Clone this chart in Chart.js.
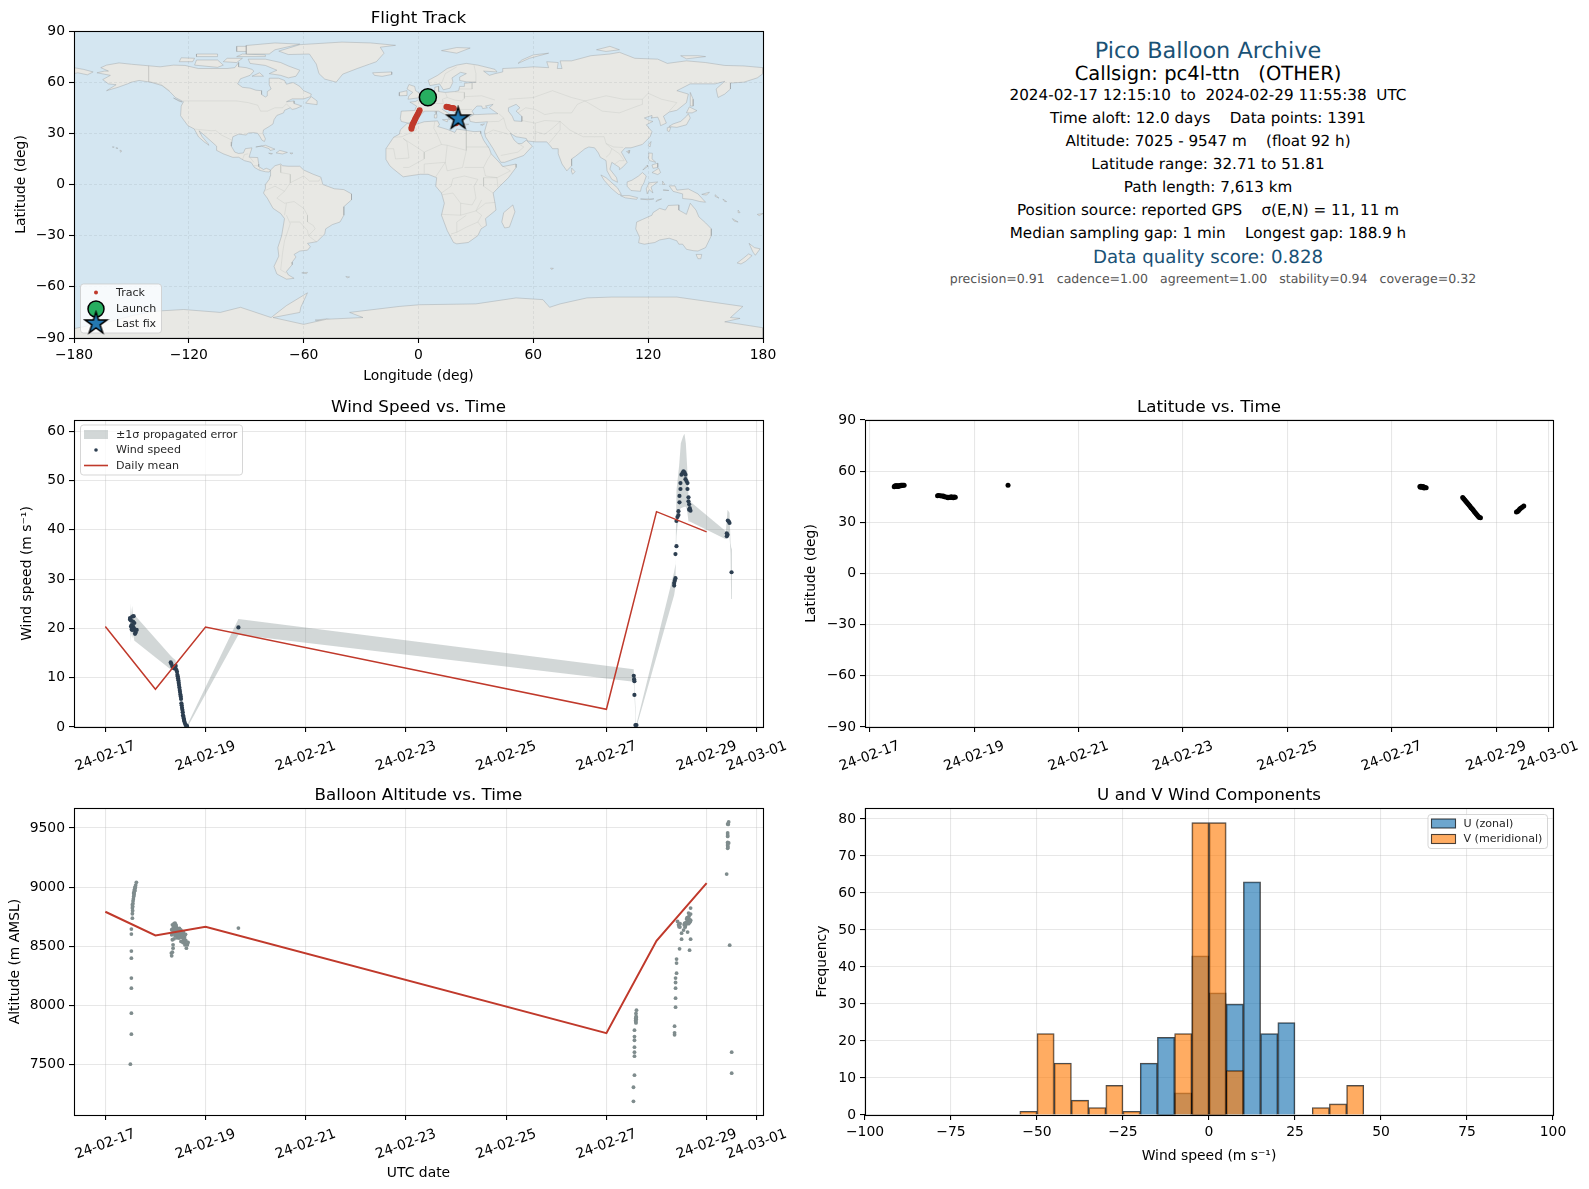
<!DOCTYPE html>
<html>
<head>
<meta charset="utf-8">
<title>Pico Balloon Archive</title>
<script src="https://cdn.jsdelivr.net/npm/chart.js@4/dist/chart.umd.min.js"></script>
<style>
  html, body { margin: 0; padding: 0; background: #fff; width: 1589px; height: 1189px; overflow: hidden; }
  canvas { position: absolute; }
  .info { position: absolute; left: 1208px; transform: translate(-50%, -50%); white-space: pre; font-family: "DejaVu Sans", sans-serif; color: #000; text-rendering: geometricPrecision; }
</style>
</head>
<body>
<script>
// ---- time axis, days after 2024-02-17 00:00 UTC
const dateTickDays = [0, 2, 4, 6, 8, 10, 12, 13];
const dateTickLabels = ['24-02-17', '24-02-19', '24-02-21', '24-02-23', '24-02-25', '24-02-27', '24-02-29', '24-03-01'];

// ---- wind speed
const windDays = [0.493, 0.493, 0.539, 0.566, 0.513, 0.553, 0.526, 0.553, 0.526, 0.573, 0.593, 0.626, 0.606, 0.593, 0.539, 0.513, 0.579,
  1.305, 1.318, 1.338, 1.358, 1.372, 1.391, 1.405, 1.418, 1.431, 1.438, 1.445, 1.451, 1.458, 1.465, 1.471, 1.478, 1.485, 1.491, 1.498, 1.505, 1.511, 1.518, 1.525, 1.531, 1.538, 1.545, 1.551, 1.558, 1.565, 1.571, 1.578, 1.591, 1.605, 1.618, 1.631,
  2.656,
  10.546, 10.553, 10.559, 10.559, 10.579, 10.599,
  11.352, 11.352, 11.365, 11.378, 11.378, 11.398, 11.398, 11.418, 11.438, 11.438, 11.458, 11.458, 11.478, 11.478, 11.498, 11.518, 11.538, 11.558, 11.578, 11.578, 11.598, 11.618, 11.618, 11.638, 11.638, 11.651, 11.664, 11.678, 11.651,
  12.403, 12.417, 12.403, 12.423, 12.443, 12.457, 12.497];
const windSpeeds = [22.1, 21.8, 22.4, 22.5, 21.6, 21.4, 20.7, 20.4, 19.8, 20.0, 19.6, 19.7, 19.2, 18.9, 19.7, 20.4, 21.1,
  13.1, 12.8, 12.3, 12.0, 11.9, 12.1, 12.4, 11.6, 11.2, 10.6, 10.3, 9.9, 9.5, 9.0, 8.5, 8.0, 7.5, 7.1, 6.6, 6.2, 5.7, 4.8, 4.4, 3.9, 3.5, 3.0, 2.4, 2.1, 1.7, 1.4, 1.1, 0.7, 0.4, 0.3, 0.2,
  20.2,
  10.4, 9.7, 9.3, 6.5, 0.4, 0.4,
  28.7, 29.2, 29.7, 30.2, 35.1, 36.7, 41.8, 42.6, 43.0, 43.8, 45.6, 46.9, 48.3, 49.5, 51.2, 51.5, 51.9, 51.7, 51.2, 50.3, 49.9, 49.5, 48.3, 46.6, 45.8, 45.2, 44.4, 43.9, 44.1,
  38.7, 39.0, 39.3, 41.9, 41.7, 41.4, 31.4];
const windMeanDays = [0, 1, 2, 10, 11, 12];
const windMeanSpeeds = [20.4, 7.65, 20.3, 3.6, 43.7, 39.6];
const bandDays = [0.493, 0.505, 0.515, 0.535, 0.55, 0.58, 0.62, 1.30, 1.35, 1.40, 1.45, 1.5, 1.55, 1.60, 1.64, 2.656,
  10.545, 10.55, 10.58, 10.59, 10.6, 11.352, 11.378, 11.385, 11.398, 11.451, 11.485, 11.531, 11.558, 11.585, 11.611, 11.638, 11.664, 12.383, 12.417, 12.457, 12.477, 12.49, 12.505];
const bandUpper = [25.1, 23.0, 22.5, 24.6, 23.0, 22.4, 22.3, 14.5, 14.0, 13.6, 10.8, 6.9, 2.9, 0.9, 0.5, 21.9,
  11.7, 10.8, 4.0, 0.8, 0.6, 31.5, 33.0, 38.0, 48.0, 53.0, 57.6, 59.0, 59.5, 57.6, 52.9, 46.8, 45.8, 39.7, 44.1, 43.5, 37.3, 36.5, 36.0];
const bandLower = [17.0, 19.5, 19.5, 18.0, 19.0, 17.5, 17.2, 11.7, 11.9, 10.9, 9.2, 5.5, 1.9, 0.3, 0.0, 18.7,
  9.2, 8.5, 2.0, 0.0, 0.0, 26.8, 28.5, 34.5, 38.7, 44.0, 44.4, 44.6, 44.7, 44.7, 44.0, 41.7, 41.7, 38.1, 40.0, 38.7, 35.3, 26.1, 26.0];

// ---- latitude
const latDays = [0.47, 0.49, 0.51, 0.53, 0.55, 0.58, 0.6, 0.62, 0.64, 0.66, 0.48, 0.52, 0.56, 0.5, 0.54, 0.6,
  1.3, 1.32, 1.35, 1.38, 1.41, 1.43, 1.46, 1.49, 1.52, 1.55, 1.58, 1.6, 1.62, 1.64, 1.5, 1.56, 1.6,
  2.65,
  10.54, 10.57, 10.6, 10.63, 10.66, 10.56, 10.58, 10.6, 10.62, 10.55,
  11.36, 11.38, 11.4, 11.42, 11.44, 11.46, 11.48, 11.5, 11.52, 11.54, 11.56, 11.58, 11.6, 11.62, 11.64, 11.66, 11.68, 11.7,
  12.39, 12.41, 12.43, 12.45, 12.47, 12.5, 12.53];
const latValues = [50.9, 51.1, 51.1, 51.3, 51.4, 51.6, 51.7, 51.8, 51.7, 51.7, 51.3, 51.4, 51.2, 51.5, 51.0, 51.4,
  45.6, 45.7, 45.6, 45.5, 45.4, 45.0, 44.8, 44.7, 44.7, 44.6, 44.7, 44.7, 44.8, 44.7, 44.4, 45.0, 44.4,
  51.7,
  51.0, 50.9, 50.7, 50.5, 50.3, 51.1, 50.5, 51.0, 50.2, 50.6,
  44.5, 43.9, 43.1, 42.4, 41.6, 40.9, 40.1, 39.4, 38.6, 37.9, 37.2, 36.4, 35.6, 34.9, 34.1, 33.4, 32.9, 32.7,
  36.0, 36.4, 37.0, 37.6, 38.2, 38.9, 39.6];
const degreeTicks = [-90, -60, -30, 0, 30, 60, 90];
const lonTicks = [-180, -120, -60, 0, 60, 120, 180];

// ---- altitude
const altDays = [0.5, 0.52, 0.52, 0.52, 0.52, 0.52, 0.52, 0.52, 0.52, 0.54, 0.54, 0.54, 0.54, 0.553, 0.566, 0.566, 0.58, 0.593, 0.606, 0.62, 0.573, 0.547, 0.593, 0.58, 0.56, 0.575, 0.59, 0.6, 0.55, 0.545,
  1.325, 1.318, 1.338, 1.352, 1.352, 1.372, 1.338, 1.325, 1.325, 1.391, 1.372, 1.405, 1.418, 1.438, 1.471, 1.505, 1.538, 1.551, 1.571, 1.591, 1.618, 1.638, 1.651, 1.605, 1.538, 1.471, 1.405, 1.372, 1.438, 1.505, 1.451, 1.485, 1.525, 1.565, 1.585,
  1.33, 1.36, 1.38, 1.4, 1.42, 1.44, 1.46, 1.48, 1.5, 1.52, 1.54, 1.56, 1.58, 1.6, 1.35, 1.39, 1.43, 1.47, 1.51, 1.55, 1.59, 1.34, 1.37, 1.41,
  2.656,
  10.6, 10.593, 10.593, 10.587, 10.587, 10.56, 10.56, 10.56, 10.56, 10.56, 10.56, 10.56, 10.54, 10.54, 10.59, 10.585, 10.595, 10.59,
  11.36, 11.36, 11.36, 11.38, 11.38, 11.38, 11.38, 11.38, 11.4, 11.4, 11.4, 11.46, 11.66, 11.68, 11.5, 11.5, 11.62, 11.54, 11.467, 11.44, 11.42, 11.553, 11.587, 11.62, 11.653, 11.64, 11.68, 11.64, 11.68, 11.6, 11.567, 11.673,
  11.56, 11.58, 11.6, 11.62, 11.64, 11.66, 11.68, 11.61, 11.57, 11.65, 11.47, 11.45,
  12.44, 12.42, 12.42, 12.42, 12.42, 12.44, 12.42, 12.42, 12.4, 12.46, 12.5, 12.5, 12.42, 12.43, 12.42, 12.425];
const altMeters = [7500, 7754, 7932, 8144, 8229, 8398, 8458, 8602, 8644, 8737, 8774, 8822, 8850, 8881, 8921, 8949, 8977, 9000, 9017, 9040, 8935, 8835, 8990, 8965, 8900, 8950, 8970, 9000, 8860, 8800,
  8418, 8441, 8449, 8483, 8511, 8562, 8554, 8596, 8638, 8695, 8672, 8681, 8653, 8624, 8633, 8638, 8624, 8582, 8554, 8525, 8483, 8511, 8531, 8548, 8540, 8568, 8610, 8624, 8582, 8596, 8640, 8610, 8575, 8560, 8590,
  8640, 8660, 8640, 8620, 8660, 8600, 8610, 8650, 8580, 8620, 8600, 8620, 8570, 8600, 8610, 8590, 8570, 8580, 8540, 8530, 8510, 8680, 8690, 8675,
  8653,
  7958, 7904, 7880, 7890, 7860, 7788, 7734, 7703, 7644, 7602, 7568, 7407, 7305, 7186, 7930, 7870, 7895, 7850,
  7766, 7749, 7822, 7983, 8059, 8144, 8192, 8229, 8271, 8356, 8390, 8477, 8466, 8559, 8559, 8610, 8619, 8636, 8661, 8681, 8709, 8681, 8695, 8709, 8723, 8737, 8771, 8780, 8822, 8729, 8695, 8709,
  8690, 8675, 8700, 8695, 8690, 8700, 8720, 8740, 8660, 8755, 8690, 8665,
  9551, 9534, 9458, 9429, 9379, 9373, 9350, 9328, 9110, 8508, 7602, 7424, 9440, 9530, 9365, 9340];
const altMeanDays = [0, 1, 2, 10, 11, 12];
const altMeanMeters = [8791, 8590, 8664, 7763, 8545, 9034];
const altTicks = [7500, 8000, 8500, 9000, 9500];
const windTicks = [0, 10, 20, 30, 40, 50, 60];

// ---- U / V histogram, 5 m/s bins
const binCenters = [-52.5, -47.5, -42.5, -37.5, -32.5, -27.5, -22.5, -17.5, -12.5, -7.5, -2.5, 2.5, 7.5, 12.5, 17.5, 22.5, 27.5, 32.5, 37.5, 42.5];
const uCounts = [0, 0, 0, 0, 0, 0, 0, 14, 21, 6, 43, 33, 30, 63, 22, 25, 0, 0, 0, 0];
const vCounts = [1, 22, 14, 4, 2, 8, 1, 0, 0, 22, 79, 79, 12, 0, 0, 0, 0, 2, 3, 8];
const histXTicks = [-100, -75, -50, -25, 0, 25, 50, 75, 100];
const histYTicks = [0, 10, 20, 30, 40, 50, 60, 70, 80];

// ---- flight track on the map
const trackLons = [-3.7, -3.6, -3.3, -3.0, -2.6, -2.2, -1.8, -1.4, -0.9, -0.4, 0.1, 0.6, 14.6, 15.4, 16.2, 17.0, 17.8, 18.4, 19.6, 19.9, 20.2, 20.6];
const trackLats = [32.7, 33.6, 34.6, 35.5, 36.4, 37.3, 38.2, 39.2, 40.2, 41.2, 42.4, 43.6, 45.6, 45.5, 45.2, 44.9, 44.8, 44.7, 35.9, 36.6, 37.6, 38.8];
const launchLon = [4.9], launchLat = [51.2];
const lastFixLon = [20.7], lastFixLat = [38.6];

// ---- coastlines, [lon, lat]
const northAmerica = [[-168,65.5],[-164,66.5],[-162,66.5],[-166,68.5],[-163,70],[-156.5,71.3],[-150,70.5],[-141,69.6],[-135,69],[-128,70],[-122,69.8],[-115,68],[-108,68],[-100,68],[-96,68.5],[-94,71.5],[-94,69],[-90,68.5],[-87,67.5],[-86,66.5],[-88,64],[-93,62],[-94.5,59],[-92,57],[-88,56.5],[-85,55.3],[-82,55],[-82,52.8],[-80,51.3],[-79,52],[-79,54.5],[-77,56],[-78,58.5],[-78,62.3],[-73,62.3],[-70,61],[-69,58.8],[-65.5,59.8],[-62,57.5],[-60,55],[-56,53],[-56.5,51.5],[-60,50.2],[-66,50.2],[-69,48.5],[-65,49],[-65,47.5],[-61,46],[-64,44.5],[-66,44],[-67,45],[-70,43.5],[-70.5,42],[-74,40.5],[-75.5,38],[-76,35.5],[-78,34],[-81,32],[-81.3,30],[-80,26.8],[-80.5,25.2],[-81.8,26],[-82.8,28],[-84,30],[-86,30.4],[-89,30.2],[-90,29],[-94,29.5],[-97,28],[-97.5,25],[-97.8,22.5],[-96,19],[-94,18.2],[-91.5,18.5],[-90.5,21],[-87,21.5],[-88,18],[-88.5,16],[-84,15.8],[-83.5,12],[-83.5,10.5],[-81,8.8],[-79.5,9.5],[-77.3,8.5],[-78,7.3],[-80,7.5],[-83,8.3],[-85.7,10],[-87.5,13],[-91,14],[-94,16],[-97,15.9],[-102,18],[-105.5,20],[-105.5,22.5],[-109,26],[-112.5,29.5],[-114.7,31.5],[-113,28],[-110,24],[-109.5,23],[-112,25],[-115,28],[-117.2,32.6],[-120.5,34.5],[-122.5,37.5],[-124.3,40.3],[-124,46],[-122.8,48.5],[-127,51],[-130,54.5],[-134,58],[-140,60],[-146,61],[-150,60],[-152,59],[-157,57],[-163,55],[-158,58.5],[-162,59],[-165,61.5],[-161,64],[-168,65.5]];
const greenland = [[-73,78.2],[-62,82],[-40,83.5],[-25,83],[-12,81.6],[-20,80.5],[-18,77],[-22,72],[-25.5,70.6],[-32,68],[-39.6,64.7],[-43,60],[-49,61.8],[-52,65],[-53.4,70.6],[-57,76.5],[-68,76.2],[-73,78.2]];
const southAmerica = [[-77.3,8.5],[-75,11],[-72,12],[-71,11],[-68,10.7],[-62,10.7],[-60,8.5],[-55,6],[-51,4.3],[-50,0],[-44,-2.5],[-39,-3],[-35,-5.5],[-35,-9],[-39,-13],[-39,-18],[-41,-22],[-45,-23.5],[-48.5,-26],[-49,-29],[-53,-33.5],[-58,-34.5],[-56.5,-36.5],[-58,-38.5],[-62,-39],[-65,-41],[-64,-42.5],[-66,-45.5],[-66,-47],[-69,-51],[-68,-53],[-65,-55],[-69,-55.5],[-74,-52.5],[-75.5,-48],[-73,-42],[-73.5,-37],[-71.5,-30],[-70,-20],[-72,-17],[-76,-14],[-79,-8],[-81,-5],[-80,-2.5],[-80,0],[-78,3],[-77.5,5],[-77.3,8.5]];
const africa = [[-17,14.7],[-17,21],[-13,27.7],[-10,29.5],[-9.5,32],[-6,35.8],[-2,35],[3,36.8],[10,37.3],[11,35],[10,34],[15,32.3],[19,30.5],[20,32.5],[25,31.7],[29,31],[32.5,31.2],[32.5,30],[34,26],[37,21],[38,18],[43,12],[44,10.5],[51,12],[51,10],[47,4],[42,-1.5],[39,-5],[40,-11],[40.5,-15],[35,-20],[35.5,-24],[32.7,-26],[31,-30],[26,-34],[20,-34.8],[18.3,-34],[15,-27],[12,-18],[13.5,-11],[12,-5],[9,-1],[9.5,4],[5,6],[1,6],[-4,5.2],[-8,4.5],[-13,9],[-15,11],[-17,14.7]];
const eurasia = [[-5.5,36],[-9,37],[-9.5,38.7],[-9,43],[-2,43.4],[-1,46],[-4.5,48.3],[-1.5,48.7],[2,51],[4,52],[7,53.5],[8.5,55],[8.5,57],[10.5,57.5],[10.5,54.5],[14,54],[19,54.5],[21,55],[21.5,57.5],[24,57.5],[24,59.3],[30,60],[25,60.2],[21.5,61],[21.5,63],[25,65],[22,65.8],[17.5,62.5],[18,60],[16.5,56.5],[13,55.5],[11,59],[6,58],[5,61],[10,64],[15,68],[20,70],[25,71],[31,70],[40,67.5],[41,66],[34,66.5],[37,64],[40,65],[44,66],[44,68],[54,68.5],[60,69],[68,68.5],[67,72],[73,71.5],[72.5,68],[75,68],[74,72.5],[80,72.5],[90,75.5],[100,76.5],[105,77.5],[113,74],[125,73.5],[130,71],[140,72.5],[150,71.5],[160,69.8],[170,69.5],[180,68.5],[180,65],[177,62.5],[170,60],[163,59.5],[163,56],[160,53],[156.5,51],[155.5,56],[160,60.5],[155,59],[142,59],[135,55],[141,53],[140,48],[135,43.5],[131,42.5],[128,40],[129.5,36],[126.5,34.5],[126,37],[125,39.5],[121.5,39],[122,40.5],[118,39],[120.5,37.5],[122.5,37],[119,35],[122,31],[121,28],[117,23.5],[111,21.5],[108,21.5],[106,19],[109,13],[107,10.5],[105,8.7],[105,10],[101,13],[100,9],[103.5,4],[104,1.3],[101,3],[98.5,8],[98,14],[95,16],[94,18.5],[92,21.5],[89,22],[87,21],[82,16.5],[80,15],[80,11],[77.5,8],[75,12],[73,18],[73,21],[70,21],[69,22.5],[67,25],[61,25],[57,25.5],[56.3,27],[51,28],[48,30],[50,26],[52,24],[54,24],[56.3,26],[59.5,22.5],[55,17],[45,13],[43,13],[39,21],[35,28],[34.5,31],[35.5,35],[36,36.8],[30,36.3],[27,37],[26.5,39.5],[29,41],[31,41],[36,41.3],[41.5,41.5],[37,45],[39,47],[35,46],[36,45],[33.5,44.5],[33,46],[30.5,46],[28,43],[29,41.2],[26,40.8],[23,40.5],[24,38],[22.5,36.7],[20,39.5],[19.5,42],[15,44.5],[13.5,45.5],[12.5,44],[18,40],[16,38],[15.5,40],[10.5,43],[6,43],[3,43],[0,39.5],[-2,36.8],[-5.5,36]];
const chukotkaWest = [[-180,68.5],[-175,67.5],[-170,66],[-173,64.3],[-178,65.5],[-180,65],[-180,68.5]];
const australia = [[114,-22],[117,-20.5],[122,-18],[122.5,-16.5],[126,-14],[129,-15],[130.5,-12.3],[136,-12],[136,-15],[140,-17.5],[142,-11],[145,-15],[146.5,-19],[150,-22.5],[153,-26],[153,-30],[150,-37],[146,-39],[143.5,-38.8],[140,-38],[138,-35],[136,-35],[135,-33],[131,-31.5],[126,-32.5],[123.5,-34],[118,-35],[115,-34.2],[115.5,-31],[113.5,-26],[114,-22]];
const antarctica = [[-180,-84.5],[-160,-80],[-150,-77],[-138,-74.3],[-122.7,-73.3],[-103.6,-75],[-93,-72],[-77,-78],[-69,-71],[-58,-63.5],[-61.5,-72],[-62,-75],[-76,-78],[-60,-82],[-48,-79],[-29,-78],[-36,-75],[-10,-71.5],[0.5,-70.5],[30,-70],[51,-66.5],[65,-67.5],[68.5,-72],[74,-70],[88,-66.5],[101,-66],[135,-66],[169.5,-71.5],[163,-78],[168,-78.5],[160,-80.5],[180,-84],[180,-90],[-180,-90],[-180,-84.5]];
const madagascar = [[49.3,-12],[50.4,-16],[47.5,-25],[45,-25.5],[43.5,-22],[44.5,-16.5],[49.3,-12]];
const britain = [[-5.5,50],[1.3,51],[1.7,52.7],[-1.5,55],[-2,57.5],[-5,58.6],[-6,56],[-3,54],[-5,52],[-5.5,50]];
const ireland = [[-10,52],[-6,52.2],[-6,55],[-10,54],[-10,52]];
const iceland = [[-24,65.5],[-14,66],[-14,64.5],[-19,63.4],[-23,64],[-24,65.5]];
const arcticIslands = [
  [[-80,73.5],[-72,71.5],[-68,69.5],[-62,67],[-64,63.5],[-68,62.5],[-72,64],[-78,65],[-74,67],[-80,69.8],[-88,71],[-89,73.5],[-80,73.5]],
  [[-117,70],[-105,68.7],[-102,70],[-105,73],[-116,73],[-117,70]],
  [[-125,72],[-118,72],[-117,74],[-124,74.3],[-125,72]],
  [[-90,76.5],[-78,76.5],[-75,79],[-62,82.3],[-75,83],[-90,81.5],[-90,76.5]],
  [[-95,75],[-80,75],[-80,76],[-92,76.5],[-95,75]],
  [[-116,75],[-105,75],[-105,76.5],[-116,76.5],[-116,75]],
  [[-95,78],[-88,78],[-88,81],[-95,81],[-95,78]],
  [[-87,63.5],[-81,63.5],[-83,65.5],[-87,63.5]],
  [[-102,72],[-95,71.5],[-92,74],[-100,74],[-102,72]],
  [[12,78.5],[20,80.3],[27,80],[20,77],[12,78.5]],
  [[52,71],[58,74],[68,77],[60,76],[54,73],[52,71]],
  [[93,79],[100,81],[105,79],[98,78],[93,79]],
  [[137,75.5],[146,75.5],[150,75],[140,73.7],[137,75.5]]];
const caribbeanIslands = [
  [[-59,47.7],[-53,46.8],[-53,49],[-56,51.5],[-59,47.7]],
  [[-128,50.7],[-123.5,48.4],[-125,48.8],[-128,50.7]],
  [[-85,22],[-80,23],[-75,20.7],[-77.5,19.9],[-78,21],[-82,22.5],[-85,22]],
  [[-74.4,18.5],[-72.5,20],[-68.5,18.8],[-71,17.9],[-74.4,18.5]],
  [[-78.3,18.4],[-76.3,18.1],[-77,17.8],[-78.3,18.4]],
  [[-67.2,18.5],[-65.6,18.4],[-66.5,17.9],[-67.2,18.5]],
  [[-160,22],[-159,22],[-159.5,21.8],[-160,22]],
  [[-158,21.6],[-157,21.2],[-158,21.2],[-158,21.6]],
  [[-156,20.2],[-155,19.6],[-155.7,18.9],[-156,20.2]],
  [[-61,-51.8],[-58,-51.5],[-58.5,-52.3],[-61,-51.8]],
  [[-38,-54],[-36,-54.2],[-37,-54.7],[-38,-54]],
  [[69,-49],[70.5,-49.2],[69.5,-49.8],[69,-49]]];
const mediterraneanIslands = [
  [[12.5,38],[15.5,38.2],[15,36.7],[12.5,38]],
  [[8.3,41],[9.7,41],[9.5,39],[8.5,39],[8.3,41]],
  [[8.7,43],[9.5,43],[9.3,41.4],[8.7,42],[8.7,43]],
  [[23.5,35.6],[26.3,35.3],[24.7,34.9],[23.5,35.6]],
  [[32.4,35],[34.5,35.6],[33.7,34.7],[32.4,35]]];
const asiaIslands = [
  [[142,54],[143.5,50],[143.5,46],[142,46],[142,50],[142,54]],
  [[130.8,34],[135,33.5],[140,35],[142,39],[141,41.5],[140,40],[137,37],[133,35.5],[130.8,34]],
  [[140,42],[141.5,45.5],[145.5,43.3],[143,42],[140,42]],
  [[130,33.3],[131.8,33.5],[131,31],[130,31.5],[130,33.3]],
  [[120,23],[121.5,25.2],[121,22],[120,23]],
  [[108.7,19.3],[110.5,20],[110,18.3],[108.7,19.3]],
  [[80,9.7],[81.8,7.5],[80.5,6],[79.8,8],[80,9.7]],
  [[120.3,18.5],[122.2,18.3],[122,15],[124,13],[120.7,14],[120,16],[120.3,18.5]],
  [[122,7],[125.5,9.5],[126.5,7],[125,5.8],[122,7]],
  [[122,11.5],[125,12.5],[125,10],[122.5,9.5],[122,11.5]],
  [[117.2,8.5],[119.5,11.3],[119.7,10.5],[117.2,8.5]],
  [[95.3,5.6],[98,4],[104,-2],[106,-5.8],[104.5,-5.8],[100.5,-2],[97,2.5],[95.3,5.6]],
  [[105.5,-6.5],[110,-6.5],[114.5,-7.7],[114,-8.7],[108,-7.8],[105.5,-6.5]],
  [[109,1.5],[111.5,2.5],[115,5],[117,7],[119,5],[117.8,1],[116.5,-1.5],[116,-4],[111,-3.5],[109,-1],[109,1.5]],
  [[119.5,-5.5],[120.5,-3],[122.5,-5],[121.5,-1.5],[125,1.5],[120.5,1],[119,-2.5],[119.5,-5.5]],
  [[124,-10],[127,-8.5],[125,-9],[124,-10]],
  [[116,-8.5],[122,-8.5],[123,-8.4],[120,-9],[116,-8.5]],
  [[128,-3],[130.8,-3.5],[128,-3.5],[128,-3]],
  [[127.5,2],[128.7,0],[127.7,0],[127.5,2]]];
const pacificIslands = [
  [[131,-0.8],[134,-0.8],[135,-3.3],[141,-2.6],[146,-5.5],[150,-10.4],[147,-10],[143,-8.8],[138,-8.2],[138,-5.5],[133,-4],[131,-0.8]],
  [[148,-5.8],[152,-4.5],[150.5,-6.2],[148,-5.8]],
  [[155,-6],[157,-8],[155,-7],[155,-6]],
  [[159,-8.5],[161,-10],[160,-10],[159,-8.5]],
  [[164,-20],[167,-22],[165,-21.5],[164,-20]],
  [[167,-15],[168,-16.5],[167.2,-16.5],[167,-15]],
  [[177,-17.5],[180,-17],[178,-18.3],[177,-17.5]],
  [[145,-41],[148,-41],[147.5,-43.5],[146,-43.5],[145,-41]],
  [[172.7,-34.5],[175.5,-37],[178.5,-37.7],[176,-41.5],[175,-40],[174.5,-39],[172.7,-34.5]],
  [[172.5,-40.7],[174.3,-41.7],[171,-45],[168.5,-46.6],[166.5,-46],[170,-43],[172.5,-40.7]],
  [[-54,-79.5],[-48,-78.8],[-44,-79.6],[-50,-80.2],[-54,-79.5]]];
const inlandWater = [[47,45],[51,47],[53,45],[51,43],[54,40],[54,37],[50,37.3],[49,40],[47,43],[47,45]];
const countryBorders = [
  [[-141,69.6],[-141,60.3],[-135,59],[-130,55]],
  [[-123,49],[-95,49],[-89,48],[-84,46.5],[-82.5,43],[-79,43],[-75,45],[-71,45],[-69,47.3],[-67,45]],
  [[-117,32.5],[-108,31.5],[-106,31.7],[-103,29],[-97.5,26]],
  [[-92,14.5],[-91,17.5],[-89,18]], [[-88,15.8],[-86,13]], [[-83.5,11],[-86,11]], [[-83,8.5],[-83,10]],
  [[-72,11.5],[-72,7],[-67,6],[-67,1],[-70,-4]],
  [[-70,-4],[-74,-8],[-70,-11],[-65,-10],[-60,-14],[-58,-18],[-58,-22],[-55,-24],[-54,-26],[-57.5,-30],[-53.5,-33.5]],
  [[-67,1],[-60,5],[-57,2],[-52,2],[-51,4]], [[-80,-3.5],[-75,-1],[-70,-4]], [[-70,-18],[-69,-11]],
  [[-69,-18],[-67,-23],[-70,-33],[-71,-40],[-72,-50],[-69,-52]], [[-67,-22],[-62,-22],[-58,-27],[-57.5,-30]],
  [[-2,35],[-1,32],[-8.7,28],[-13,27.7]], [[-8,27],[3,19],[12,23.5],[9.5,30],[8,33],[8.5,37]],
  [[25,32],[25,20],[24,15]], [[25,20],[15,23],[12,23.5]], [[25,22],[37,22]], [[15,23],[14,13],[15,8],[23,10],[24,15]],
  [[-17,21],[-13,21],[-12,15],[-5,15.5],[-6,25],[-8,27]], [[3,19],[3,15],[-5,10],[-8,10]], [[3,6.5],[3,12],[14,13],[9,4.5]],
  [[24,10],[34,10],[36,14.5],[38,18]], [[12.5,-6],[18,-5],[22,-11],[28,-12],[30,-8],[29,-1],[31,3],[24,5],[18,3.5],[17,-1],[12,-5]],
  [[34,4],[41,4],[41.5,-1.5]], [[34,4],[34,-1],[39,-5]], [[34,10],[35,5],[41,4],[48,8],[43,11.5]],
  [[12,-17.5],[22,-18],[22,-11]], [[20,-28],[20,-22],[25,-18]], [[17,-29],[20,-28],[25,-25],[31,-22],[33,-25]],
  [[22,-18],[30,-15.5],[33,-9]], [[31,-22],[33,-18],[30,-15.5],[35,-11],[40,-10.5]],
  [[-1.8,43.3],[3,42.5]], [[2.5,51],[8,49],[7,46]], [[14,54],[15,51],[12.5,50],[13,47.5],[7.5,47.5]],
  [[19,54.3],[24,54],[24,50.5],[22.5,49],[19,49.5],[15,51]], [[40,49.5],[33,52],[24,51.5]], [[28,59.5],[28,56],[21,56]],
  [[30,60],[30,65],[29,70]], [[12,59],[14,65],[20,69]], [[13.5,46],[19,46],[22,44],[28,44]], [[22.5,41.5],[20,42]],
  [[47,50],[60,51],[70,55],[80,51],[87,49]], [[87,49],[98,52],[107,50],[117,50],[120,53.5],[127,50],[135,48],[131,43]],
  [[87,49],[96,43],[105,42],[112,45],[117,47],[117,50]], [[52,42],[56,45],[61,44],[66,41],[71,42],[80,42],[83,47],[87,49]],
  [[74,37],[79,32],[86,28],[92,28],[97,28],[98,24],[102,22],[107,21.7]], [[68,24],[71,28],[74,32],[74,37]],
  [[44.5,39],[46,33],[48.5,30]], [[61,25],[61,31],[61,36],[54,37.5]], [[61,31],[66,29.5],[70,33],[74,37],[66,37.5],[61,36]],
  [[36,36.8],[42,37],[44.5,39],[42,41.5]], [[35,29.5],[39,32],[47,29.5]], [[43,17],[52,19],[55,22],[52,24]],
  [[98,24],[101,21],[100,18],[98,16]], [[101,21],[105,18],[107.5,14]], [[102.5,12],[105,14],[107.5,14]]];

// ---- text panel
const infoLines = [
  { text: 'Pico Balloon Archive', y: 51, size: 22.4, color: '#1a5276' },
  { text: 'Callsign: pc4l-ttn   (OTHER)', y: 73, size: 19.5, color: '#000' },
  { text: '2024-02-17 12:15:10  to  2024-02-29 11:55:38  UTC', y: 94.5, size: 15.2, color: '#000' },
  { text: 'Time aloft: 12.0 days    Data points: 1391', y: 118, size: 15.2, color: '#000' },
  { text: 'Altitude: 7025 - 9547 m    (float 92 h)', y: 140.5, size: 15.2, color: '#000' },
  { text: 'Latitude range: 32.71 to 51.81', y: 164, size: 15.2, color: '#000' },
  { text: 'Path length: 7,613 km', y: 187, size: 15.2, color: '#000' },
  { text: 'Position source: reported GPS    σ(E,N) = 11, 11 m', y: 210, size: 15.2, color: '#000' },
  { text: 'Median sampling gap: 1 min    Longest gap: 188.9 h', y: 233, size: 15.2, color: '#000' },
  { text: 'Data quality score: 0.828', y: 257, size: 18.2, color: '#1a5276' },
  { text: 'precision=0.91   cadence=1.00   agreement=1.00   stability=0.94   coverage=0.32', y: 278, size: 12.55, color: '#555', shift: 5 }
];

// ---- colours and font
const FONT = '"DejaVu Sans", sans-serif';
const TICK_SIZE = 13.9, LEGEND_SIZE = 11.1, TITLE_SIZE = 16.7;
const RED = '#c0392b', NAVY = '#2c3e50', GREY = '#7f8c8d';
const OCEAN = '#d4e6f1', LAND = '#e8e8e4', COAST = 'rgba(150,155,158,0.5)', BORDER = 'rgba(170,172,170,0.3)';
const GRID = 'rgba(176,176,176,0.3)', MAP_GRID = 'rgba(110,120,125,0.18)';
const TITLE_H = 26, RIGHT_PAD = 60;

Chart.defaults.font.family = FONT;
Chart.defaults.color = '#000';
Chart.defaults.animation = false;

const zip = (xs, ys) => xs.map((x, i) => ({ x, y: ys[i] }));
const pairs = list => list.map(p => ({ x: p[0], y: p[1] }));
const minus = v => String(v).replace('-', '\u2212');

function starImage(outer) {
  const c = document.createElement('canvas');
  const size = Math.ceil(outer * 2 + 4);
  c.width = c.height = size;
  const g = c.getContext('2d');
  g.translate(size / 2, size / 2);
  g.beginPath();
  for (let i = 0; i < 10; i++) {
    const r = i % 2 ? outer * 0.382 : outer;
    const a = -Math.PI / 2 + i * Math.PI / 5;
    g.lineTo(r * Math.cos(a), r * Math.sin(a));
  }
  g.closePath();
  g.fillStyle = '#2478b0';
  g.fill();
  g.lineWidth = 1.5;
  g.strokeStyle = '#000';
  g.stroke();
  return c;
}
const STAR = starImage(11.5);

// ocean, outer frame, rotated date labels and boxed legends
const panelPlugin = {
  id: 'panelDecor',
  beforeDatasetsDraw(chart, args, opts) {
    if (!opts.background) return;
    const a = chart.chartArea;
    chart.ctx.save();
    chart.ctx.fillStyle = opts.background;
    chart.ctx.fillRect(a.left, a.top, a.width, a.height);
    chart.ctx.restore();
  },
  afterDraw(chart, args, opts) {
    const ctx = chart.ctx, a = chart.chartArea;
    ctx.save();
    ctx.strokeStyle = '#000';
    ctx.lineWidth = 1.1;
    ctx.strokeRect(a.left + 0.5, a.top + 0.5, a.width, a.height);
    if (opts.dateLabels) {
      ctx.font = TICK_SIZE + 'px ' + FONT;
      ctx.fillStyle = '#000';
      ctx.textAlign = 'center';
      ctx.textBaseline = 'middle';
      const angle = 20 * Math.PI / 180;
      dateTickDays.forEach((d, i) => {
        const w = ctx.measureText(dateTickLabels[i]).width;
        const h = w * Math.sin(angle) + TICK_SIZE * Math.cos(angle);
        ctx.save();
        ctx.translate(chart.scales.x.getPixelForValue(d), a.bottom + 12 + h / 2);
        ctx.rotate(-angle);
        ctx.fillText(dateTickLabels[i], 0, 0);
        ctx.restore();
      });
    }
    if (opts.legend) drawLegend(ctx, a, opts.legend);
    ctx.restore();
  }
};

function drawLegend(ctx, a, lg) {
  const x = lg.right !== undefined ? a.right - lg.right - lg.w : a.left + lg.left;
  const y = lg.bottom !== undefined ? a.bottom - lg.bottom - lg.h : a.top + lg.top;
  ctx.beginPath();
  ctx.roundRect(x, y, lg.w, lg.h, 3);
  ctx.fillStyle = 'rgba(255,255,255,0.8)';
  ctx.fill();
  ctx.strokeStyle = 'rgba(204,204,204,0.8)';
  ctx.lineWidth = 1;
  ctx.stroke();
  ctx.font = LEGEND_SIZE + 'px ' + FONT;
  ctx.textAlign = 'left';
  ctx.textBaseline = 'middle';
  lg.items.forEach(it => {
    const cy = y + it.dy, hx = x + 3.5, hw = 24;
    if (it.kind === 'patch') {
      ctx.fillStyle = it.fill;
      ctx.fillRect(hx, cy - 4.5, hw, 9);
      if (it.edge) {
        ctx.strokeStyle = it.edge;
        ctx.lineWidth = 1.1;
        ctx.strokeRect(hx, cy - 4.5, hw, 9);
      }
    } else if (it.kind === 'line') {
      ctx.strokeStyle = it.color;
      ctx.lineWidth = 1.6;
      ctx.beginPath();
      ctx.moveTo(hx, cy);
      ctx.lineTo(hx + hw, cy);
      ctx.stroke();
    } else if (it.kind === 'dot' || it.kind === 'circle') {
      ctx.fillStyle = it.color;
      ctx.beginPath();
      ctx.arc(hx + hw / 2, cy, it.r, 0, Math.PI * 2);
      ctx.fill();
      if (it.kind === 'circle') {
        ctx.strokeStyle = '#000';
        ctx.lineWidth = 1.5;
        ctx.stroke();
      }
    } else if (it.kind === 'star') {
      ctx.drawImage(STAR, hx + hw / 2 - STAR.width / 2, cy - STAR.height / 2);
    }
    ctx.fillStyle = '#262626';
    ctx.fillText(it.label, x + 35.5, cy + 0.5);
  });
}

function axisOptions(c) {
  return {
    type: 'linear',
    min: c.min,
    max: c.max,
    offset: false,
    afterBuildTicks: s => { s.ticks = c.ticks.map(v => ({ value: v })); },
    afterFit: s => { if (c.width) s.width = c.width; if (c.height) s.height = c.height; },
    grid: {
      offset: false,
      color: c.gridColor || GRID,
      lineWidth: c.gridWidth || 1.1,
      tickColor: '#000',
      tickWidth: 1.1,
      tickLength: 5,
      z: c.gridZ || -1
    },
    border: { display: false, dash: c.dash || [] },
    ticks: {
      display: !c.hideLabels,
      autoSkip: false,
      maxRotation: 0,
      minRotation: 0,
      padding: 4,
      color: '#000',
      font: { size: TICK_SIZE },
      callback: v => minus(v)
    },
    title: {
      display: !!c.title,
      text: c.title || '',
      color: '#000',
      padding: 0,
      font: { size: TICK_SIZE, lineHeight: 1.2 }
    }
  };
}

// every panel gets its own canvas, sized so the plot box lands on p.left/p.top
function panelChart(p, type, datasets, xAxis, yAxis, decor) {
  const canvas = document.createElement('canvas');
  const w = p.yWidth + p.w + RIGHT_PAD, h = TITLE_H + p.h + p.xHeight;
  canvas.width = w;
  canvas.height = h;
  canvas.style.left = (p.left - p.yWidth) + 'px';
  canvas.style.top = (p.top - TITLE_H) + 'px';
  canvas.style.width = w + 'px';
  canvas.style.height = h + 'px';
  document.body.appendChild(canvas);
  return new Chart(canvas, {
    type,
    data: { datasets },
    plugins: [panelPlugin],
    options: {
      responsive: false,
      devicePixelRatio: 1,
      events: [],
      layout: { padding: { right: RIGHT_PAD, left: 0, top: 0, bottom: 0 } },
      scales: {
        x: axisOptions({ ...xAxis, height: p.xHeight }),
        y: axisOptions({ ...yAxis, width: p.yWidth })
      },
      plugins: {
        legend: { display: false },
        tooltip: { enabled: false },
        title: {
          display: true,
          text: p.title,
          color: '#000',
          fullSize: false,
          padding: { top: 4, bottom: TITLE_H - TITLE_SIZE * 1.2 - 4 },
          font: { size: TITLE_SIZE, weight: 'normal', lineHeight: 1.2 }
        },
        panelDecor: decor || {}
      }
    }
  });
}

const dots = (data, color, radius, order) => ({ data, pointRadius: radius, pointBackgroundColor: color, pointBorderWidth: 0, showLine: false, order });
const meanLine = (data, width, order) => ({ data, showLine: true, borderColor: RED, borderWidth: width, pointRadius: 0, tension: 0, order });
const landShape = list => ({ data: pairs(list), showLine: true, fill: 'shape', backgroundColor: LAND, borderColor: COAST, borderWidth: 0.8, pointRadius: 0, tension: 0, order: 10 });

// ---- map
const landLists = [northAmerica, greenland, southAmerica, africa, eurasia, chukotkaWest, australia, antarctica, madagascar, britain, ireland, iceland,
  ...arcticIslands, ...caribbeanIslands, ...mediterraneanIslands, ...asiaIslands, ...pacificIslands];
const mapSets = landLists.map(landShape);
mapSets.push({ data: pairs(inlandWater), showLine: true, fill: 'shape', backgroundColor: OCEAN, borderColor: COAST, borderWidth: 0.8, pointRadius: 0, tension: 0, order: 9 });
countryBorders.forEach(b => mapSets.push({ data: pairs(b), showLine: true, borderColor: BORDER, borderWidth: 0.7, pointRadius: 0, tension: 0, order: 8 }));
mapSets.push(dots(zip(trackLons, trackLats), RED, 3, 3));
mapSets.push({ data: zip(launchLon, launchLat), pointRadius: 8.5, pointBackgroundColor: '#27ae60', pointBorderColor: '#000', pointBorderWidth: 1.5, order: 2 });
mapSets.push({ data: zip(lastFixLon, lastFixLat), pointStyle: STAR, pointRadius: 11, order: 1 });

panelChart({ title: 'Flight Track', left: 74, top: 31, w: 689, h: 307, yWidth: 61, xHeight: 47 }, 'scatter', mapSets,
  { min: -180, max: 180, ticks: lonTicks, title: 'Longitude (deg)', gridColor: MAP_GRID, gridWidth: 0.7, dash: [3, 2], gridZ: 1 },
  { min: -90, max: 90, ticks: degreeTicks, title: 'Latitude (deg)', gridColor: MAP_GRID, gridWidth: 0.7, dash: [3, 2], gridZ: 1 },
  { background: OCEAN, legend: { left: 6.5, bottom: 5, w: 81, h: 49, items: [
    { kind: 'dot', color: RED, r: 2, label: 'Track', dy: 8.5 },
    { kind: 'circle', color: '#27ae60', r: 8, label: 'Launch', dy: 25 },
    { kind: 'star', label: 'Last fix', dy: 39.5 }
  ] } });

// ---- wind speed
panelChart({ title: 'Wind Speed vs. Time', left: 74, top: 420, w: 689, h: 307, yWidth: 55, xHeight: 62 }, 'scatter', [
    { data: zip(bandDays, bandUpper), showLine: true, fill: '+1', backgroundColor: 'rgba(127,140,141,0.35)', borderWidth: 0, borderColor: 'transparent', pointRadius: 0, tension: 0, order: 5 },
    { data: zip(bandDays, bandLower), showLine: true, borderWidth: 0, borderColor: 'transparent', pointRadius: 0, tension: 0, order: 5 },
    dots(zip(windDays, windSpeeds), NAVY, 2.1, 4),
    meanLine(zip(windMeanDays, windMeanSpeeds), 1.5, 3)
  ],
  { min: -0.625, max: 13.125, ticks: dateTickDays, hideLabels: true },
  { min: 0, max: 62.3, ticks: windTicks, title: 'Wind speed (m s\u207B\u00B9)' },
  { dateLabels: true, legend: { left: 6.5, top: 5, w: 162, h: 50, items: [
    { kind: 'patch', fill: 'rgba(127,140,141,0.35)', label: '\u00B11\u03C3 propagated error', dy: 9.5 },
    { kind: 'dot', color: NAVY, r: 1.8, label: 'Wind speed', dy: 25 },
    { kind: 'line', color: RED, label: 'Daily mean', dy: 40.5 }
  ] } });

// ---- latitude
panelChart({ title: 'Latitude vs. Time', left: 865, top: 420, w: 688, h: 307, yWidth: 62, xHeight: 62 }, 'scatter', [
    dots(zip(latDays, latValues), '#000', 2.5, 1)
  ],
  { min: -0.09, max: 13.09, ticks: dateTickDays, hideLabels: true },
  { min: -90, max: 90, ticks: degreeTicks, title: 'Latitude (deg)' },
  { dateLabels: true });

// ---- altitude
panelChart({ title: 'Balloon Altitude vs. Time', left: 74, top: 808, w: 689, h: 307, yWidth: 67, xHeight: 67 }, 'scatter', [
    dots(zip(altDays, altMeters), GREY, 1.9, 2),
    meanLine(zip(altMeanDays, altMeanMeters), 2, 1)
  ],
  { min: -0.625, max: 13.125, ticks: dateTickDays, hideLabels: true, title: 'UTC date' },
  { min: 7070, max: 9669.5, ticks: altTicks, title: 'Altitude (m AMSL)' },
  { dateLabels: true });

// ---- histogram
const toBars = counts => binCenters.map((x, i) => ({ x, y: counts[i] })).filter(b => b.y > 0);
const barSet = (counts, fill, order) => ({
  data: toBars(counts), backgroundColor: fill, borderColor: 'rgba(0,0,0,0.7)', borderWidth: 1.1,
  grouped: false, barPercentage: 1, categoryPercentage: 1, order
});
panelChart({ title: 'U and V Wind Components', left: 865, top: 808, w: 688, h: 307, yWidth: 51, xHeight: 50 }, 'bar', [
    barSet(uCounts, 'rgba(31,119,180,0.65)', 2),
    barSet(vCounts, 'rgba(255,127,14,0.65)', 1)
  ],
  { min: -100, max: 100, ticks: histXTicks, title: 'Wind speed (m s\u207B\u00B9)' },
  { min: 0, max: 82.95, ticks: histYTicks, title: 'Frequency' },
  { legend: { right: 5.5, top: 6.5, w: 119.5, h: 34, items: [
    { kind: 'patch', fill: 'rgba(31,119,180,0.65)', edge: 'rgba(0,0,0,0.7)', label: 'U (zonal)', dy: 9 },
    { kind: 'patch', fill: 'rgba(255,127,14,0.65)', edge: 'rgba(0,0,0,0.7)', label: 'V (meridional)', dy: 24.5 }
  ] } });

// ---- text block
infoLines.forEach(l => {
  const d = document.createElement('div');
  d.className = 'info';
  d.textContent = l.text;
  d.style.top = l.y + 'px';
  d.style.fontSize = l.size + 'px';
  d.style.color = l.color;
  if (l.shift) d.style.marginLeft = l.shift + 'px';
  document.body.appendChild(d);
});
</script>
</body>
</html>
